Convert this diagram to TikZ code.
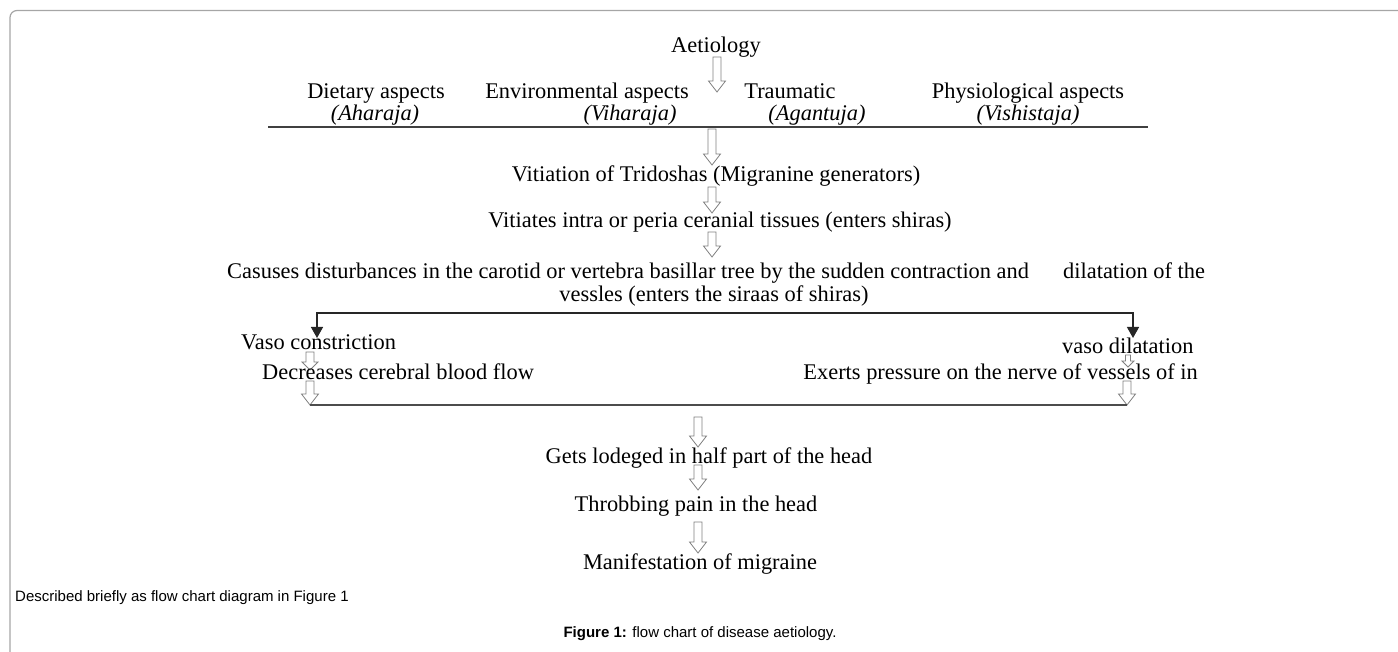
\documentclass[tikz,border=0pt]{standalone}
\usepackage{fontspec}
\setmainfont{Liberation Serif}
\newfontfamily\capfont{Liberation Sans}
\usetikzlibrary{calc,arrows.meta}
\begin{document}
\begin{tikzpicture}[x=1pt,y=-1pt,
  txt/.style={inner sep=0pt, font=\fontsize{22.4}{26}\selectfont, anchor=base},
  ital/.style={txt, font=\fontsize{22.4}{26}\selectfont\itshape},
  captxt/.style={inner sep=0pt, font=\capfont\fontsize{15}{17}\selectfont, anchor=base},
  rule/.style={draw=black!75, line width=1.2pt},
  blk/.style={draw=black!85, line width=1.4pt},
  harrow/.style n args={3}{draw=black!50, fill=white, line width=0.8pt, line join=miter,
    to path={let \p1=(\tikztostart), \p2=(\tikztotarget) in
      (\x1-#1,\y1) -- (\x1+#1,\y1) -- (\x1+#1,\y2+#3) -- (\x1+#2,\y2+#3) -- (\x1,\y2)
      -- (\x1-#2,\y2+#3) -- (\x1-#1,\y2+#3) -- cycle}},
  big/.style={harrow={4pt}{8.5pt}{11pt}},
]
\useasboundingbox (0,0) rectangle (1398,652);
% frame
\draw[draw=black!35, line width=1.2pt, rounded corners=7pt] (10,652) -- (10,10.5) -- (1398,10.5);

% top
\node[txt] (aet) at (716,53) {Aetiology};
\node[txt] (diet) at (376,99) {Dietary aspects};
\node[ital] (ahar) at (375,121) {(Aharaja)};
\node[txt] (env) at (587,99) {Environmental aspects};
\node[ital] (vih) at (630,121) {(Viharaja)};
\node[txt] (trau) at (790,99) {Traumatic};
\node[ital] (agan) at (817,121) {(Agantuja)};
\node[txt] (phys) at (1028,99) {Physiological aspects};
\node[ital] (vish) at (1028,121) {(Vishistaja)};
\coordinate (l1a) at (268,127);
\coordinate (l1b) at (1148,127);
\draw[rule] (l1a) -- (l1b);

\coordinate (a1s) at (717,57); \coordinate (a1e) at (717,92);
\draw[big] (a1s) to (a1e);
\coordinate (a2s) at (712,129); \coordinate (a2e) at (712,165);
\draw[big] (a2s) to (a2e);

\node[txt] (vit) at (716,182) {Vitiation of Tridoshas (Migranine generators)};
\coordinate (a3s) at (712,187); \coordinate (a3e) at (712,213);
\draw[big] (a3s) to (a3e);
\node[txt] (vts) at (720,228) {Vitiates intra or peria ceranial tissues (enters shiras)};
\coordinate (a4s) at (712,232); \coordinate (a4e) at (712,257);
\draw[big] (a4s) to (a4e);

\node[txt, anchor=base west] (cas) at (227,279) {Casuses disturbances in the carotid or vertebra basillar tree by the sudden contraction and};
\node[txt, anchor=base west] (dil) at (1063,279) {dilatation of the};
\node[txt] (ves) at (714,302) {vessles (enters the siraas of shiras)};

% split
\coordinate (bl) at (317,313); \coordinate (br) at (1133,313);
\coordinate (btl) at (317,338); \coordinate (btr) at (1133,338);
\draw[blk, {Triangle[width=12pt,length=11pt]}-{Triangle[width=12pt,length=11pt]}] (btl) -- (bl) -- (br) -- (btr);

\node[txt, anchor=base west] (vcon) at (241,350) {Vaso constriction};
\node[txt, anchor=base west] (vdil) at (1062,354) {vaso dilatation};
\coordinate (la1s) at (310,352); \coordinate (la1e) at (310,370);
\draw[harrow={4pt}{8pt}{8pt}] (la1s) to (la1e);
\node[txt, anchor=base west] (dec) at (262,380) {Decreases cerebral blood flow};
\coordinate (la2s) at (310,381); \coordinate (la2e) at (310,405);
\draw[big] (la2s) to (la2e);

\coordinate (ra1s) at (1128,355); \coordinate (ra1e) at (1128,367);
\draw[harrow={2.5pt}{6pt}{6pt}] (ra1s) to (ra1e);
\node[txt, anchor=base east] (exe) at (1198,380) {Exerts pressure on the nerve of vessels of in};
\coordinate (ra2s) at (1127,381); \coordinate (ra2e) at (1127,405);
\draw[big] (ra2s) to (ra2e);

\coordinate (l2a) at (310,405); \coordinate (l2b) at (1127,405);
\draw[draw=black!70, line width=1.2pt] (l2a) -- (l2b);

\coordinate (b1s) at (698,417); \coordinate (b1e) at (698,447);
\draw[big] (b1s) to (b1e);
\node[txt] (gets) at (709,463) {Gets lodeged in half part of the head};
\coordinate (b2s) at (698,465); \coordinate (b2e) at (698,490);
\draw[big] (b2s) to (b2e);
\node[txt] (thr) at (696,511) {Throbbing pain in the head};
\coordinate (b3s) at (698,522); \coordinate (b3e) at (698,553);
\draw[big] (b3s) to (b3e);
\node[txt] (man) at (700,569) {Manifestation of migraine};

\node[captxt, anchor=base west] (desc) at (15,601) {Described briefly as flow chart diagram in Figure 1};
\node[captxt] (fig) at (700,637) {\textbf{Figure 1:} flow chart of disease aetiology.};
\end{tikzpicture}
\end{document}
